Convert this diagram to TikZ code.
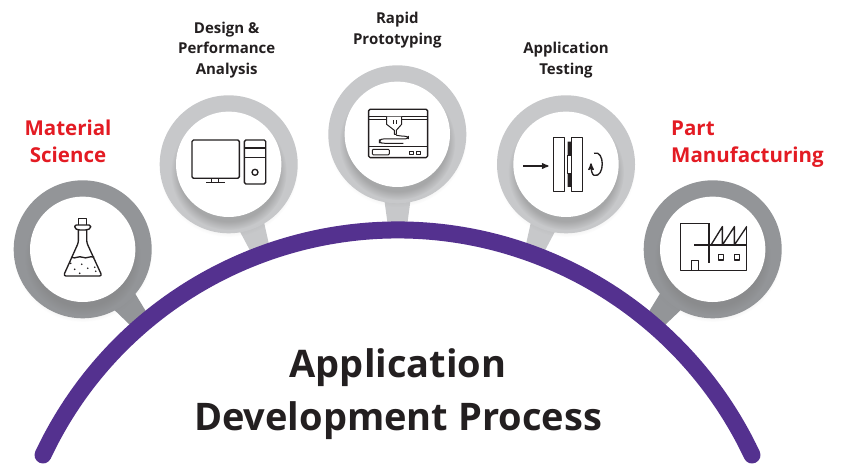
\documentclass[tikz,border=0pt]{standalone}
\usepackage{fontspec}
\setmainfont{Open Sans}
\usetikzlibrary{arrows,positioning,calc,shadows}

\definecolor{archpurple}{HTML}{54318F}
\definecolor{ringdark}{HTML}{939598}
\definecolor{ringlight}{HTML}{C7C8CA}
\definecolor{inkred}{HTML}{E31B23}
\definecolor{inkblack}{HTML}{231F20}

\tikzset{
  ring/.style={circle,inner sep=0pt,minimum size=138pt,fill=#1,
    circular drop shadow={shadow xshift=0pt,shadow yshift=-3pt,shadow scale=1.01,opacity=.18}},
  disc/.style={circle,inner sep=0pt,minimum size=105.4pt,fill=white,
    circular drop shadow={shadow xshift=0pt,shadow yshift=-7pt,shadow scale=1.1,opacity=.45}},
  toplabel/.style={font=\fontsize{15}{20.5}\selectfont\bfseries,text=inkblack,align=center,inner sep=0pt},
  redlabel/.style={font=\fontsize{20.5}{27}\selectfont\bfseries,text=inkred,inner sep=0pt},
  icon/.style={line width=1.35pt,draw=inkblack,line join=round},
}

\newcommand{\stemto}[3]{\fill[#3] ($(#1)!22pt!90:(#2)$) -- ($(#1)!22pt!-90:(#2)$) -- ($(#2)!9pt!90:(#1)$) -- ($(#2)!9pt!-90:(#1)$) -- cycle;}

\begin{document}
\begin{tikzpicture}[x=1pt,y=1pt,>=stealth',node distance=86pt]

  \useasboundingbox (0,0) rectangle (842,464);

  \coordinate (archcenter) at (397.5,-158);
  \coordinate (archstart) at (43,9);
  \coordinate (archA) at (145,137);
  \coordinate (archB) at (262,210);
  \coordinate (archC) at (397.5,233.8);
  \coordinate (archD) at (533,210);
  \coordinate (archE) at (650,137);

  \coordinate (material) at (82.7,214.7);
  \coordinate (design) at (228.7,299.7);
  \coordinate (rapid) at (397.3,329.7);
  \coordinate (testing) at (566,299.7);
  \coordinate (part) at (712.7,214.7);

  % stems sit under the rings
  \stemto{material}{archA}{ringdark}
  \stemto{design}{archB}{ringlight}
  \stemto{rapid}{archC}{ringlight}
  \stemto{testing}{archD}{ringlight}
  \stemto{part}{archE}{ringdark}

  \foreach \hub/\col in {material/ringdark,design/ringlight,rapid/ringlight,testing/ringlight,part/ringdark}{
    \node[ring=\col] (\hub ring) at (\hub) {};
    \node[disc] (\hub disc) at (\hub) {};
  }

  \draw[archpurple,line width=17pt,line cap=round] (archstart) arc[start angle=154.8,end angle=25.2,radius=391.8];

  % flask
  \begin{scope}[shift={(material)}]
    \draw[icon] (-4.3,24.3) -- (-4.3,31) -- (4,31) -- (4,24.3);
    \draw[icon,rounded corners=1.5pt] (-8,24.3) -- (8,24.3) -- (8,21) -- (4,19.3) -- (-4.3,19.3) -- (-8,21) -- cycle;
    \draw[icon,rounded corners=2.5pt] (-4.3,19.3) -- (-4.3,6.7) -- (-19.3,-26.7) -- (19.3,-26.7) -- (4,6.7) -- (4,19.3);
    \draw[icon] (-11.5,-8) .. controls (-7,-10) and (-4,-6) .. (0,-8) .. controls (4,-10) and (7,-6) .. (11.5,-8);
    \foreach \dotx/\doty in {-12/-14,-8/-20,-1/-15,5/-19,12/-18,13/-22,-3/-24}
      \fill[inkblack] (\dotx,\doty) circle (.9);
  \end{scope}

  % computer
  \begin{scope}[shift={(design)}]
    \draw[icon,rounded corners=1.5pt] (-36.7,-14) rectangle (10.7,24.3);
    \draw[icon] (-17,-14) -- (-17,-18.5) (-10.5,-14) -- (-10.5,-18.5) (-22.5,-18.5) -- (-3.5,-18.5);
    \draw[icon,rounded corners=1.5pt] (15.7,-19.7) rectangle (37,24.3);
    \draw[icon] (15.7,16.3) -- (37,16.3) (15.7,7) -- (37,7);
    \draw[icon] (26.3,-8) circle (3);
  \end{scope}

  % printer
  \begin{scope}[shift={(rapid)}]
    \draw[icon,rounded corners=1.5pt] (-28.7,-23.3) rectangle (30.3,25);
    \draw[icon,line width=1pt] (-28.7,17.7) -- (30.3,17.7) (-28.7,14.3) -- (30.3,14.3) (-28.7,-12.3) -- (30.3,-12.3);
    \draw[icon,line width=1pt,fill=white] (-10.7,17.7) -- (-10.7,10) -- (-3,4) -- (-3,0) -- (-1,0) -- (-1,4) -- (4.3,10) -- (4.3,17.7);
    \draw[icon,line width=1pt] (-3.5,14) -- (-3.5,10) (-.5,14) -- (-.5,10);
    \draw[icon,line width=1pt,rounded corners=2.5pt] (-1,-1) -- (6,-2) -- (11,-2) -- (11,-4.5) -- (-15,-4.5) -- (-18,-6) -- (-18,-8) -- (-15,-9) -- (6,-9);
    \draw[icon,line width=1pt,rounded corners=1pt] (-25,-20.5) rectangle (-8,-15);
    \draw[icon,line width=1pt] (12,-20.5) rectangle (16,-17) (19.5,-20.5) rectangle (23.5,-17);
  \end{scope}

  % test rig
  \begin{scope}[shift={(testing)}]
    \draw[icon,->] (-43,-1.7) -- (-17.5,-1.7);
    \draw[icon] (-12.7,-27) rectangle (-1.7,27) (5.7,-27) rectangle (16.7,27);
    \fill[inkblack] (1.7,22.7) rectangle (5.7,9.3) (1.7,-9.3) rectangle (5.7,-22.7);
    \draw[icon,line width=.7pt] (1.7,9.3) rectangle (5.7,-9.3);
    \draw[icon,->] (28,11) .. controls (39,15) and (39,-14) .. (28,-11) .. controls (26,-10) and (25,-6) .. (25,1);
  \end{scope}

  % factory
  \begin{scope}[shift={(part)}]
    \draw[icon] (-3.7,26) -- (-32,26) -- (-32,-21.3) -- (34,-21.3) -- (34,22.7) -- (34,4.3) -- (-19,4.3);
    \draw[icon] (-3.7,26) -- (-3.7,-14);
    \draw[icon] (-1.7,4.3) -- (9.7,22.7) -- (9.7,4.3) (9.7,4.3) -- (21.7,22.7) -- (21.7,4.3) (21.7,4.3) -- (34,22.7);
    \draw[icon] (-21,-21.3) -- (-21,-11) -- (-14.3,-11) -- (-14.3,-21.3);
    \draw[icon] (5.7,-5.3) rectangle (11,-10.7) (21.7,-5.3) rectangle (27,-10.7);
  \end{scope}

  \node[toplabel] (designlabel) [above=of design,xshift=-2pt] {Design \&\\Performance\\Analysis};
  \node[toplabel] (rapidlabel) [above=of rapid] {Rapid\\Prototyping};
  \node[toplabel] (testinglabel) [above=of testing] {Application\\Testing};

  \node[redlabel,align=center] (materiallabel) at (68,322.5) {Material\\Science};
  \node[redlabel,align=left,anchor=west] (partlabel) at (671,319.5) {Part\\Manufacturing};

  \node[font=\fontsize{38}{53}\selectfont\bfseries,text=inkblack,align=center,inner sep=0pt] (title) at (398,70) {Application\\Development Process};

\end{tikzpicture}
\end{document}
